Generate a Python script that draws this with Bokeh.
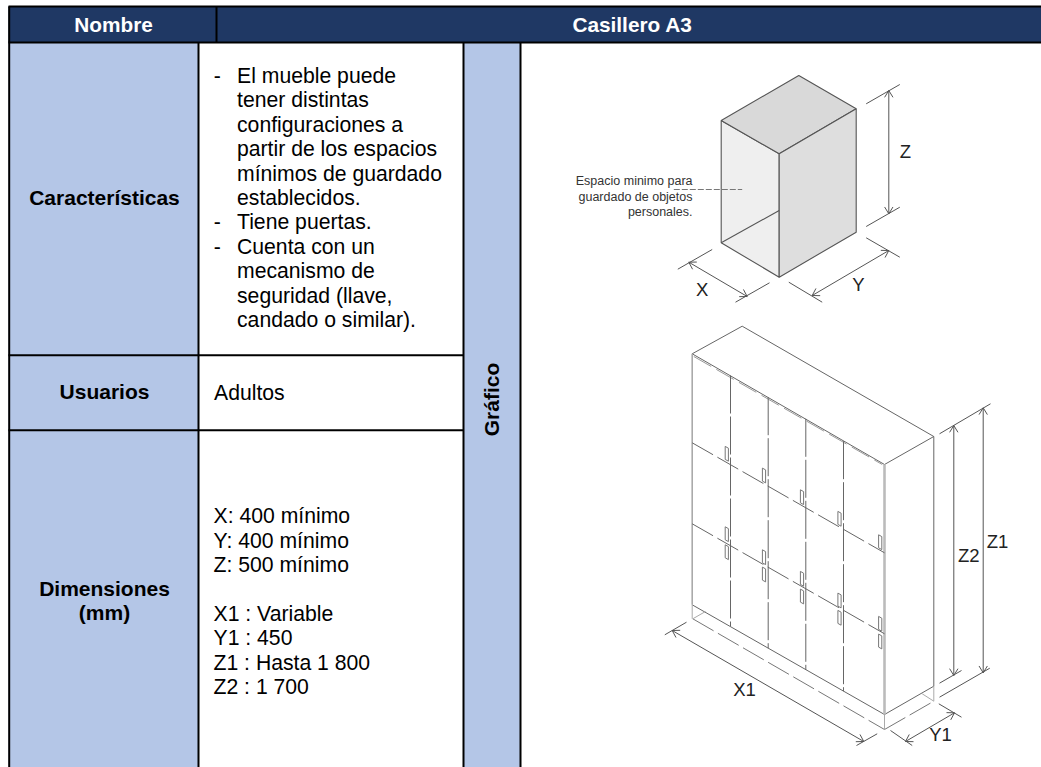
from bokeh.plotting import figure
from bokeh.embed import file_html
from bokeh.resources import INLINE
from bokeh.core.properties import value
import math

FONT = "Liberation Sans"
NAVY, BLUE, INK = "#1F3864", "#B4C6E7", "#000000"

# ---- table content ----
header_labels = ["Nombre", "Casillero A3"]
header_x = [113, 632]
row_labels = ["Características", "Usuarios", "Dimensiones", "(mm)"]
row_label_y = [205, 399, 596, 620]
bullets_y = [82.7, 229, 253.5]
feature_lines = ["El mueble puede", "tener distintas", "configuraciones a", "partir de los espacios",
                 "mínimos de guardado", "establecidos.", "Tiene puertas.", "Cuenta con un",
                 "mecanismo de", "seguridad (llave,", "candado o similar)."]
feature_y = [82.7, 107, 131.5, 156, 180.3, 204.7, 229, 253.5, 278, 302.5, 327]
dimension_lines = ["X: 400 mínimo", "Y: 400 mínimo", "Z: 500 mínimo",
                   "X1 : Variable", "Y1 : 450", "Z1 : Hasta 1 800", "Z2 : 1 700"]
dimension_y = [522.3, 547.3, 571.7, 620.7, 645, 670, 694]

# table cells: left, right, top, bottom
blue_cells = [(8, 198, 42, 767), (463, 520, 42, 767)]
navy_cell = (8, 1041, 6, 42)
grid_h = [([8, 1041], [6, 6]), ([8, 1041], [42, 42]), ([8, 463], [354.7, 354.7]), ([8, 463], [429.7, 429.7])]
grid_v = [([8.7, 8.7], [6, 767]), ([216, 216], [6, 42]), ([198, 198], [42, 767]),
          ([463, 463], [42, 767]), ([520, 520], [42, 767])]

# ---- small box drawing ----
box_top = ([720.7, 798.3, 855.7, 778.7], [120, 75, 108.3, 153.3])
box_right = ([778.7, 855.7, 855.7, 778.7], [153.3, 108.3, 231.7, 276.7])
box_left = ([720.7, 778.7, 778.7, 720.7], [120, 153.3, 276.7, 242.3])
box_inner = ([720.7, 778.7], [242.3, 210])
box_leader = ([673.3, 741.7], [189, 189])
box_note = ["Espacio minimo para", "guardado de objetos", "personales."]
box_note_y = [185, 200.5, 215.5]

# ---- cabinet drawing ----
cab_solid = [
    ([691.7, 741.7, 933.3, 884, 691.7], [353.3, 325.7, 436, 464, 353.3]),
    ([933.3, 933.3], [436, 685.7]),
    ([691.7, 884], [604.3, 714]),
    ([884, 933.3], [714, 685.7]),
]
cab_grey = [([691.7, 691.7], [353.3, 604.3])]
cab_front_edge = ([884, 884], [464, 714])
cab_top_double = ([693.3, 881.7], [356, 464])
cab_base_dash = [([692.3, 884], [618.3, 729]), ([884, 933.3], [729, 700.7])]
cab_short = [([691.7, 691.7], [604.3, 618.3]), ([884, 884], [714, 729]), ([933.3, 933.3], [685.7, 700.7]),
             ([692.3, 705], [618.3, 611]), ([921.7, 933.3], [693.3, 700.7])]
door_x = [730, 767.7, 805.3, 843]
door_top = [375, 396.7, 418.3, 440.7]
door_bottom = [625.7, 647.7, 669.3, 690.7]
divider_rows = [([691.7, 884], [442.3, 552.3]), ([691.7, 884], [523.3, 633.3])]
handle_x = [726.3, 763.5, 801.5, 839, 879.7]
handle_row1 = [453.3, 475, 496.7, 518.3, 541.7]
handle_row2_up = [533.7, 556.7, 578.3, 600, 623.3]
handle_row2_low = [551.7, 574, 596, 617.3, 641]

# ---- dimension lines: dimension line + two extension lines ----
dim_lines = [
    (888.3, 90, 888.3, 213.3),    # Z
    (688.3, 261.7, 746.7, 296),   # X
    (811.7, 295, 888.3, 250),     # Y
    (953.3, 425, 953.3, 675),     # Z2
    (982.7, 407.3, 982.7, 672.3), # Z1
    (671.7, 630, 863.3, 741),     # X1
    (905, 741, 954, 712.3),       # Y1
]
ext_lines = [
    (865.7, 103.3, 899.3, 84), (865.7, 226, 899.3, 206.7),
    (677.3, 268.7, 711.7, 249), (735, 301.7, 769, 282.3),
    (788.3, 281.7, 821.7, 301.7), (865.7, 237.3, 899.3, 256.7),
    (939, 433.3, 990, 403.3), (939, 682.7, 961, 670), (939, 696.7, 989.3, 667.7),
    (664.3, 634.3, 686, 621.7), (856, 745, 876.7, 733.3),
    (890, 730, 911.7, 745), (938.3, 703.3, 961, 716.7),
]
dim_labels = ["Z", "X", "Y", "Z2", "Z1", "X1", "Y1"]
dim_label_x = [905, 701.7, 858, 968.3, 997, 744, 940]
dim_label_y = [158, 296, 291, 562, 548, 696, 741]

p = figure(width=1041, height=767, x_range=(0, 1041), y_range=(767, 0),
           x_axis_type=None, y_axis_type=None, toolbar_location=None,
           output_backend="svg", min_border=0, outline_line_color=None,
           background_fill_color="#ffffff", border_fill_color="#ffffff")
p.grid.visible = False

# table fills
p.quad(left=[c[0] for c in blue_cells], right=[c[1] for c in blue_cells],
       top=[c[2] for c in blue_cells], bottom=[c[3] for c in blue_cells],
       fill_color=BLUE, line_color=None)
p.quad(left=[navy_cell[0]], right=[navy_cell[1]], top=[navy_cell[2]], bottom=[navy_cell[3]],
       fill_color=NAVY, line_color=None)
p.multi_line([g[0] for g in grid_h + grid_v], [g[1] for g in grid_h + grid_v],
             line_color=INK, line_width=2)

# small box
p.patch(*box_left, fill_color="#EFEFEF", line_color="#555555", line_width=1.1)
p.patch(*box_top, fill_color="#D9D9D9", line_color="#555555", line_width=1.1)
p.patch(*box_right, fill_color="#DEDEDE", line_color="#555555", line_width=1.1)
p.line(*box_inner, line_color="#555555", line_width=1.1)
p.line(*box_leader, line_color="#777777", line_width=1, line_dash="6 2")

# cabinet
p.multi_line([c[0] for c in cab_solid], [c[1] for c in cab_solid], line_color="#666666", line_width=1)
p.multi_line([c[0] for c in cab_grey], [c[1] for c in cab_grey], line_color="#AAAAAA", line_width=1.6)
p.line(*cab_front_edge, line_color="#BBBBBB", line_width=2.6)
p.line(*cab_top_double, line_color="#999999", line_width=1, line_dash="20 6")
p.multi_line([c[0] for c in cab_base_dash], [c[1] for c in cab_base_dash],
             line_color="#777777", line_width=1, line_dash="24 5")
p.multi_line([c[0] for c in cab_short], [c[1] for c in cab_short], line_color="#AAAAAA", line_width=1)
p.multi_line([[x, x] for x in door_x], [[t, b] for t, b in zip(door_top, door_bottom)],
             line_color="#666666", line_width=1, line_dash="38 3")
p.multi_line([d[0] for d in divider_rows], [d[1] for d in divider_rows],
             line_color="#666666", line_width=1, line_dash="24 5")
hx, hy = [], []
for row in (handle_row1, handle_row2_up, handle_row2_low):
    for cx, cy in zip(handle_x, row):
        hx.append([cx - 1.6, cx + 1.6, cx + 1.6, cx - 1.6])
        hy.append([cy - 7.4, cy - 5.6, cy + 7.4, cy + 5.6])
p.patches(hx, hy, fill_color="#ffffff", line_color="#777777", line_width=1)

# dimension lines with open arrow heads
dx, dy = [], []
for x0, y0, x1, y1 in dim_lines:
    dx.append([x0, x1]); dy.append([y0, y1])
    a = math.atan2(y1 - y0, x1 - x0)
    for (px, py, ang) in ((x0, y0, a), (x1, y1, a + math.pi)):
        for s in (-0.55, 0.55):
            dx.append([px, px + 8 * math.cos(ang + s)])
            dy.append([py, py + 8 * math.sin(ang + s)])
for x0, y0, x1, y1 in ext_lines:
    dx.append([x0, x1]); dy.append([y0, y1])
p.multi_line(dx, dy, line_color="#555555", line_width=1)

def txt(xs, ys, labels, size, color="#000000", style="normal", align="left", angle=0.0):
    # the renderer centres this text on y, so move from baseline to visual centre
    ys = [y - 0.36 * size for y in ys]
    p.text(x=xs, y=ys, text=labels, text_font=value(FONT), text_font_size=value(f"{size}px"),
           text_font_style=style, text_color=color, text_align=align,
           text_baseline="alphabetic", angle=angle)

txt(header_x, [31, 31], header_labels, 20.8, "#FFFFFF", "bold", "center")
txt([104] * 4, row_label_y, row_labels, 21, INK, "bold", "center")
p.text(x=[491], y=[399], text=["Gráfico"], text_font=value(FONT), text_font_size=value("21px"),
       text_font_style="bold", text_color=INK, text_align="center", text_baseline="alphabetic",
       angle=math.pi / 2)
txt([213.3] * 3, bullets_y, ["-"] * 3, 21.2)
txt([236.5] * len(feature_lines), feature_y, feature_lines, 21.2)
txt([213.5], [400], ["Adultos"], 21.2)
txt([213] * len(dimension_lines), dimension_y, dimension_lines, 21.2)
txt([692] * 3, box_note_y, box_note, 12.5, "#333333", "normal", "right")
txt(dim_label_x, dim_label_y, dim_labels, 18.5, "#222222", "normal", "center")

open("out.html", "w").write(file_html(p, INLINE))
